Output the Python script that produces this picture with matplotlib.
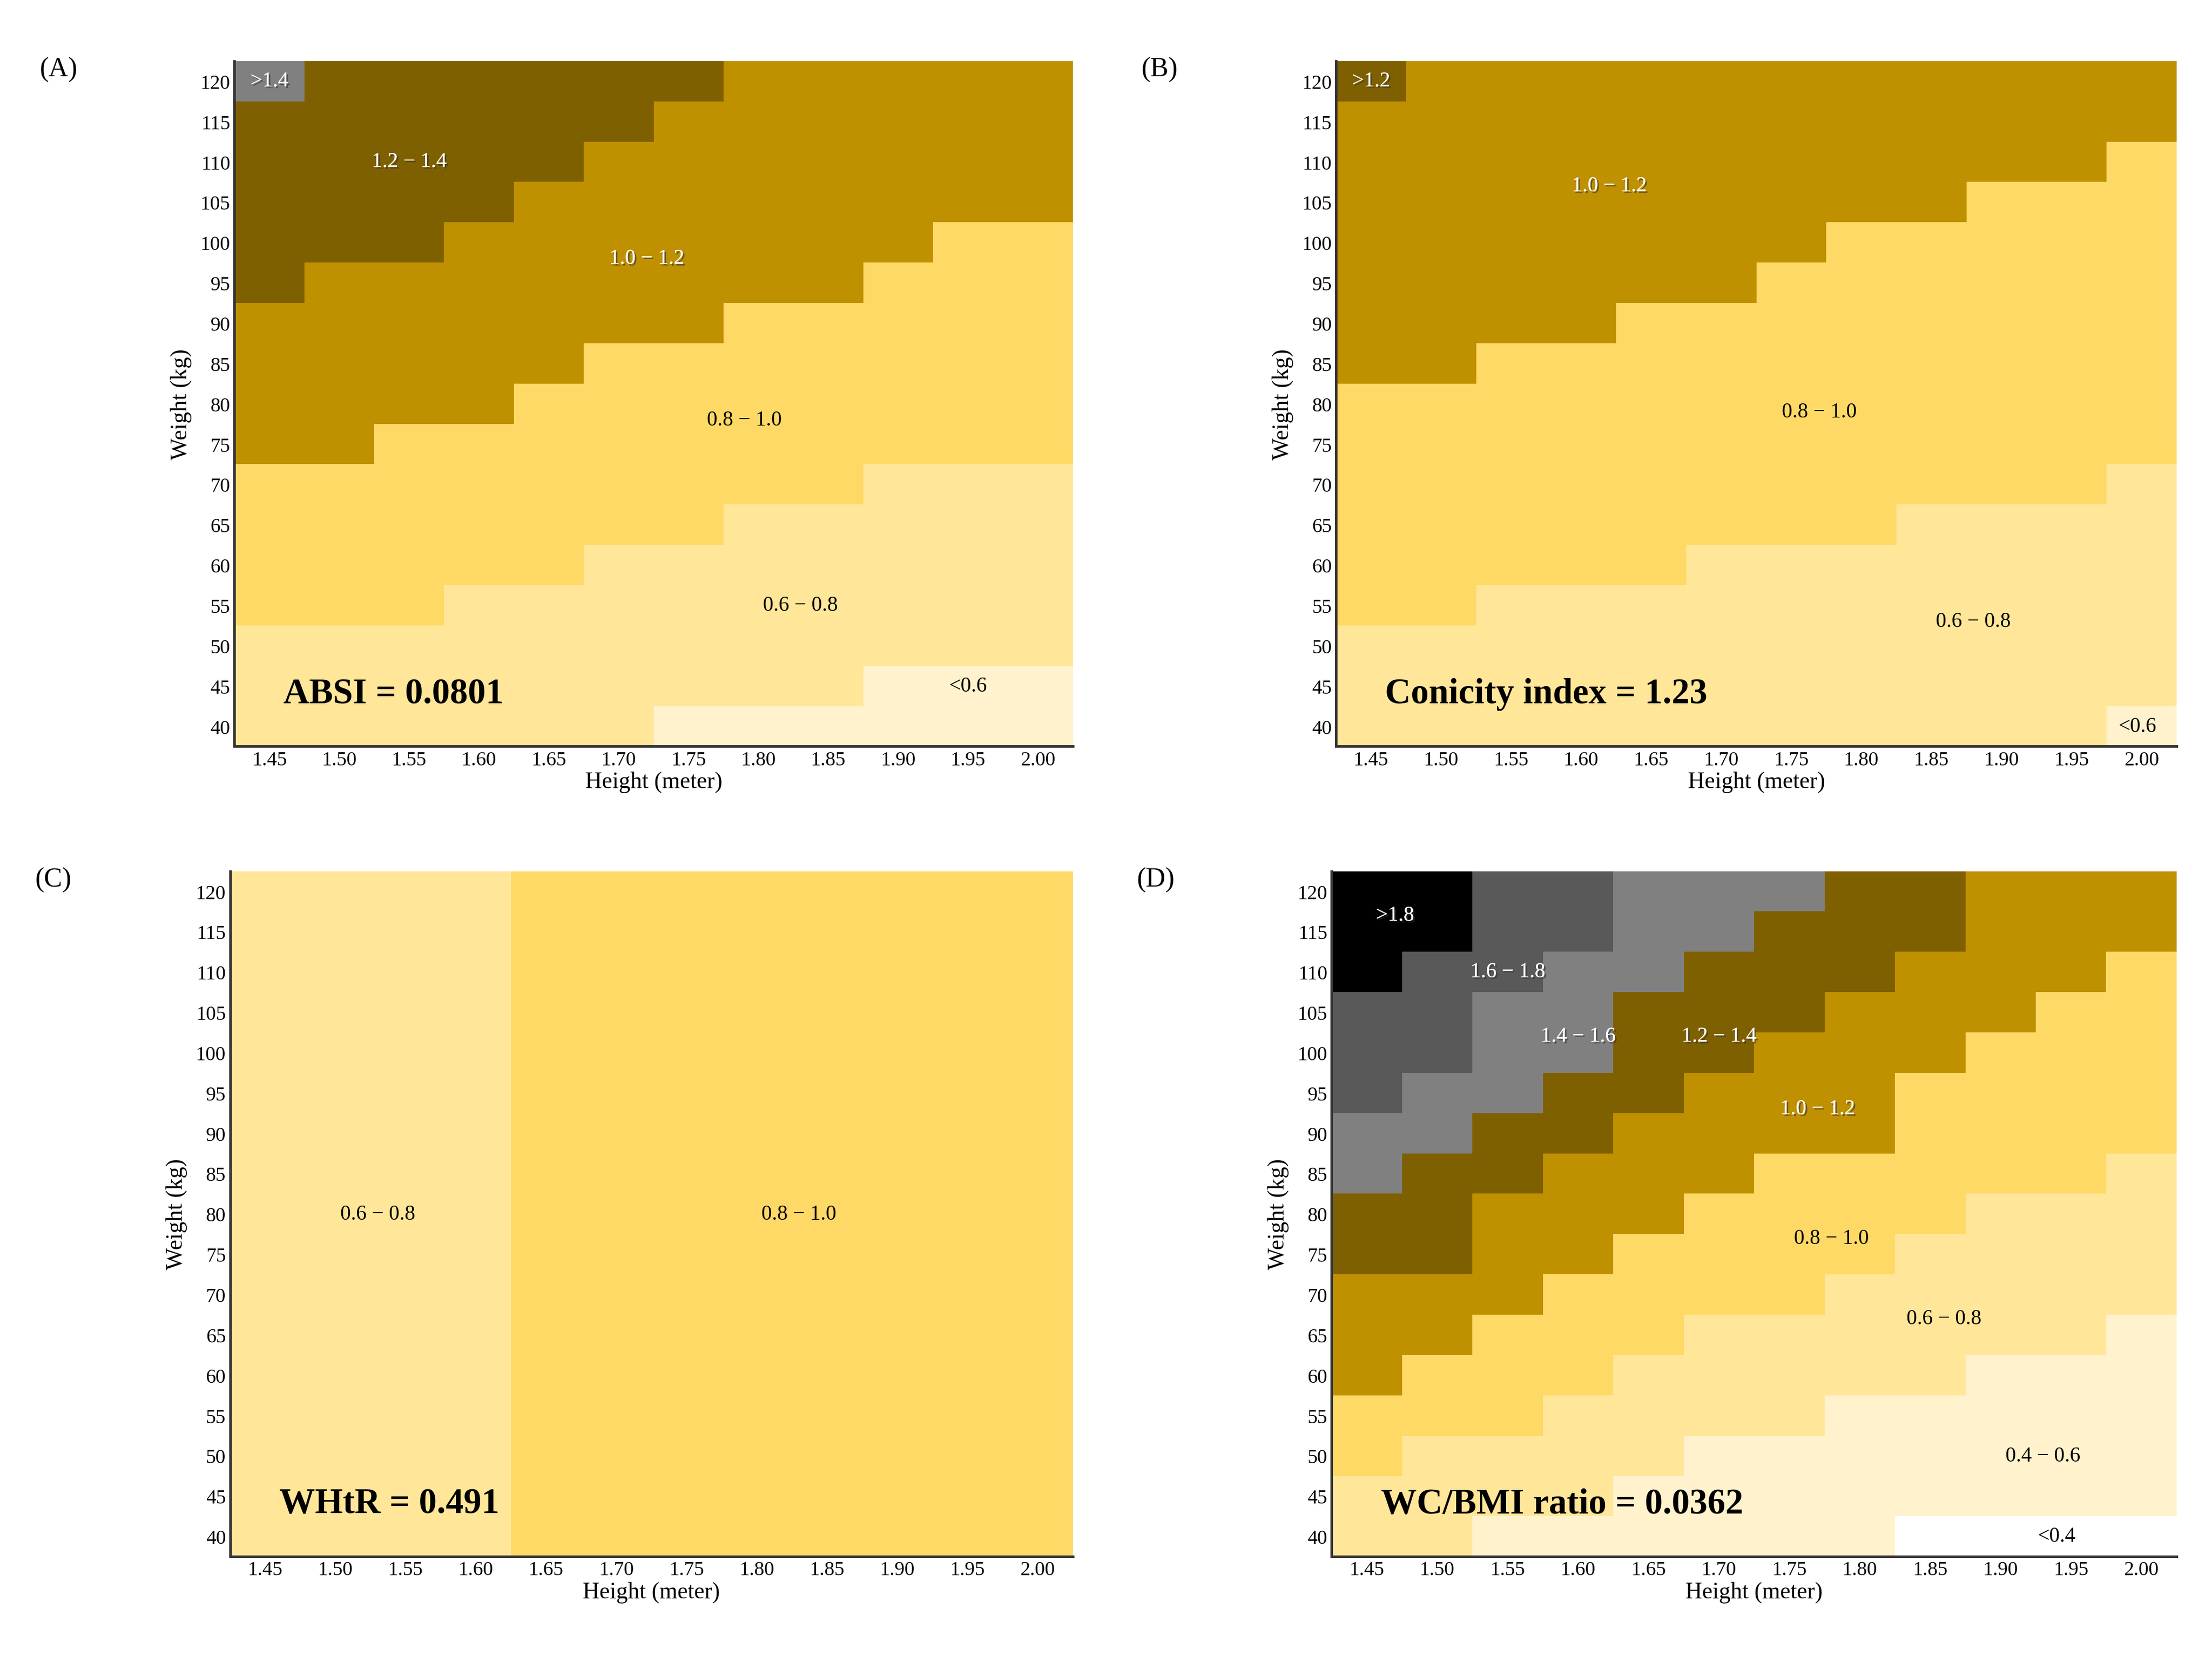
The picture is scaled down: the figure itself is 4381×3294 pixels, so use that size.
import numpy as np
import matplotlib
matplotlib.use("Agg")
import matplotlib.pyplot as plt
from matplotlib.colors import ListedColormap, BoundaryNorm
import matplotlib.patheffects as pe

heights = [1.45, 1.50, 1.55, 1.60, 1.65, 1.70, 1.75, 1.80, 1.85, 1.90, 1.95, 2.00]
weights = list(range(40, 125, 5))
N = 999  # never reached

# Per-column lowest weight at which each successive category starts
A_cats = ["<0.6", "0.6-0.8", "0.8-1.0", "1.0-1.2", "1.2-1.4", ">1.4"]
A_thr = [
    [40, 40, 40, 40, 40, 40, 45, 45, 45, 50, 50, 50],
    [55, 55, 55, 60, 60, 65, 65, 70, 70, 75, 75, 75],
    [75, 75, 80, 80, 85, 90, 90, 95, 95, 100, 105, 105],
    [95, 100, 100, 105, 110, 115, 120, N, N, N, N, N],
    [120, N, N, N, N, N, N, N, N, N, N, N],
]
B_cats = ["<0.6", "0.6-0.8", "0.8-1.0", "1.0-1.2", ">1.2"]
B_thr = [
    [40, 40, 40, 40, 40, 40, 40, 40, 40, 40, 40, 45],
    [55, 55, 60, 60, 60, 65, 65, 65, 70, 70, 70, 75],
    [85, 85, 90, 90, 95, 95, 100, 105, 105, 110, 110, 115],
    [120, N, N, N, N, N, N, N, N, N, N, N],
]
C_cats = ["0.6-0.8", "0.8-1.0"]
C_thr = [
    [N, N, N, N, 40, 40, 40, 40, 40, 40, 40, 40],
]
D_cats = ["<0.4", "0.4-0.6", "0.6-0.8", "0.8-1.0", "1.0-1.2", "1.2-1.4", "1.4-1.6", "1.6-1.8", ">1.8"]
D_thr = [
    [40, 40, 40, 40, 40, 40, 40, 40, 45, 45, 45, 45],
    [40, 40, 45, 45, 50, 55, 55, 60, 60, 65, 65, 70],
    [50, 55, 55, 60, 65, 70, 70, 75, 80, 85, 85, 90],
    [60, 65, 70, 75, 80, 85, 90, 90, 100, 105, 110, 115],
    [75, 75, 85, 90, 95, 100, 105, 110, 115, N, N, N],
    [85, 90, 95, 100, 110, 115, 120, N, N, N, N, N],
    [95, 100, 110, 115, N, N, N, N, N, N, N, N],
    [110, 115, N, N, N, N, N, N, N, N, N, N],
]

cat_colors = {
    "<0.4": "#ffffff", "0.4-0.6": "#fff2cc", "<0.6": "#fff2cc", "0.6-0.8": "#ffe699",
    "0.8-1.0": "#ffd966", "1.0-1.2": "#bf9000", "1.2-1.4": "#7f6000", ">1.2": "#7f6000",
    "1.4-1.6": "#808080", ">1.4": "#808080", "1.6-1.8": "#595959", ">1.8": "#000000",
}

panels = [
    ("(A)", A_cats, A_thr, "ABSI = 0.0801",
     [(">1.4", 1.45, 120, "w"), ("1.2 − 1.4", 1.55, 110, "w"), ("1.0 − 1.2", 1.72, 98, "w"),
      ("0.8 − 1.0", 1.79, 78, "k"), ("0.6 − 0.8", 1.83, 55, "k"), ("<0.6", 1.95, 45, "k")]),
    ("(B)", B_cats, B_thr, "Conicity index = 1.23",
     [(">1.2", 1.45, 120, "w"), ("1.0 − 1.2", 1.62, 107, "w"), ("0.8 − 1.0", 1.77, 79, "k"),
      ("0.6 − 0.8", 1.88, 53, "k"), ("<0.6", 1.997, 40, "k")]),
    ("(C)", C_cats, C_thr, "WHtR = 0.491",
     [("0.6 − 0.8", 1.53, 80, "k"), ("0.8 − 1.0", 1.83, 80, "k")]),
    ("(D)", D_cats, D_thr, "WC/BMI ratio = 0.0362",
     [(">1.8", 1.47, 117, "w"), ("1.6 − 1.8", 1.55, 110, "w"), ("1.4 − 1.6", 1.60, 102, "w"),
      ("1.2 − 1.4", 1.70, 102, "w"), ("1.0 − 1.2", 1.77, 93, "w"), ("0.8 − 1.0", 1.78, 77, "k"),
      ("0.6 − 0.8", 1.86, 67, "k"), ("0.4 − 0.6", 1.93, 50, "k"), ("<0.4", 1.94, 40, "k")]),
]

positions = [
    [0.106, 0.551, 0.379, 0.412],
    [0.604, 0.551, 0.380, 0.412],
    [0.104, 0.064, 0.381, 0.412],
    [0.602, 0.064, 0.382, 0.412],
]

plt.rcParams['font.family'] = ['Liberation Serif', 'DejaVu Serif']
fig = plt.figure(figsize=(4381 / 300, 3295 / 300), dpi=300)

H = np.array(heights)
W = np.array(weights)
xe = np.concatenate([H - 0.025, [H[-1] + 0.025]])
ye = np.concatenate([W - 2.5, [W[-1] + 2.5]])

for (tag, cats, thr, title, labels), pos in zip(panels, positions):
    ax = fig.add_axes(pos)
    thr_arr = np.array(thr)
    grid = np.zeros((len(weights), len(heights)), dtype=int)
    for t in thr_arr:
        grid += (W[:, None] >= t[None, :]).astype(int)
    cmap = ListedColormap([cat_colors[c] for c in cats])
    norm = BoundaryNorm(np.arange(-0.5, len(cats) + 0.5, 1), len(cats))
    ax.pcolormesh(xe, ye, grid, cmap=cmap, norm=norm, shading="flat")
    ax.set_xlim(xe[0], xe[-1])
    ax.set_ylim(ye[0], ye[-1])
    ax.set_xticks(heights)
    ax.set_xticklabels([f"{h:.2f}" for h in heights], fontsize=9.5)
    ax.set_yticks(weights)
    ax.set_yticklabels([str(w) for w in weights], fontsize=9.5)
    ax.tick_params(length=0, pad=2)
    for s in ["top", "right"]:
        ax.spines[s].set_visible(False)
    for s in ["left", "bottom"]:
        ax.spines[s].set_linewidth(1.2)
        ax.spines[s].set_color("#333333")
    ax.set_xlabel("Height (meter)", fontsize=11, labelpad=1)
    ax.set_ylabel("Weight (kg)", fontsize=11, labelpad=4)
    for txt, x, y, c in labels:
        if c == "w":
            ax.text(x, y, txt, color="white", fontsize=10, ha="center", va="center",
                    path_effects=[pe.withSimplePatchShadow(offset=(0.8, -0.8), shadow_rgbFace="#333333", alpha=0.6), pe.Normal()])
        else:
            ax.text(x, y, txt, color="black", fontsize=10, ha="center", va="center")
    ax.text(1.46, 44, title, fontsize=17, fontweight="bold", ha="left", va="center")
    fig.text(pos[0] - 0.088, pos[1] + pos[3] - 0.005, tag, fontsize=13, ha="left", va="center")

fig.savefig("out.png", dpi=300)
